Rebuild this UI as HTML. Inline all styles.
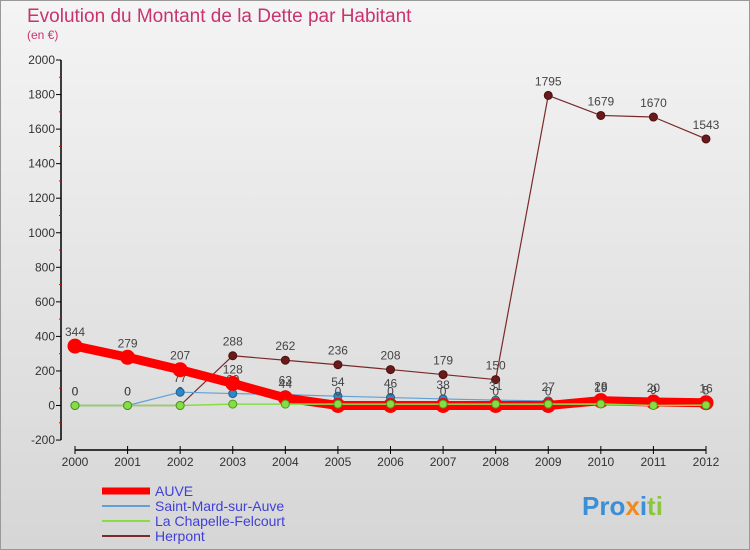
<!DOCTYPE html>
<html><head><meta charset="utf-8"><style>
body{margin:0;width:750px;height:550px;overflow:hidden;font-family:"Liberation Sans",sans-serif;}
#wrap{position:relative;width:748px;height:548px;border:1px solid #999;background:linear-gradient(#f4f4f4,#d6d6d6);}
</style></head><body>
<div id="wrap">
<svg id="c" width="750" height="550" style="position:absolute;left:-1px;top:-1px">
<text x="27" y="22" font-size="19" fill="#c8336e">Evolution du Montant de la Dette par Habitant</text>
<text x="27" y="39" font-size="12" fill="#c8336e">(en €)</text>
<g id="axes"></g><g id="series"></g><g id="legend"></g>
<text x="582" y="515" font-size="26" font-weight="bold" fill="#3a8fd6">Pro<tspan fill="#f08a1c">x</tspan><tspan fill="#3a8fd6">i</tspan><tspan fill="#8cc63f">ti</tspan></text>
</svg></div>
<script>
const years=[2000,2001,2002,2003,2004,2005,2006,2007,2008,2009,2010,2011,2012];
const yTicks=[-200,0,200,400,600,800,1000,1200,1400,1600,1800,2000];
const auve=[344,279,207,128,44,0,0,0,0,0,28,20,16];
const saintMard=[0,0,77,69,63,54,46,38,31,27,19,9,5];
const chapelle=[0,0,0,8,8,8,8,8,8,8,9,0,2];
const herpont=[0,0,0,288,262,236,208,179,150,1795,1679,1670,1543];
const NS="http://www.w3.org/2000/svg";
const X=i=>75+i*(706-75)/12;
const Y=v=>405.5-v*(345.5/2000);
function mk(t,a,p){const e=document.createElementNS(NS,t);for(const k in a)e.setAttribute(k,a[k]);p.appendChild(e);return e;}
const ax=document.getElementById('axes');
let e=mk('line',{x1:61,y1:Y(2000),x2:61,y2:Y(-200),stroke:'#000','stroke-width':1.5},ax);

e=mk('line',{x1:75,y1:450,x2:706,y2:450,stroke:'#000','stroke-width':1.5},ax);

yTicks.forEach(v=>{mk('line',{x1:56,y1:Y(v),x2:61,y2:Y(v),stroke:'#000'},ax);
 if(v<2000)mk('line',{x1:59,y1:Y(v+100),x2:61,y2:Y(v+100),stroke:'#e00'},ax);
 const t=mk('text',{x:55,y:Y(v)+4,'font-size':12,'text-anchor':'end',fill:'#333'},ax);t.textContent=v;
 });
years.forEach((y,i)=>{mk('line',{x1:X(i),y1:446,x2:X(i),y2:454,stroke:'#000'},ax);
 const t=mk('text',{x:X(i),y:466,'font-size':12,'text-anchor':'middle',fill:'#333'},ax);t.textContent=y;
 });
const sg=document.getElementById('series');
function series(name,data,color,w,r,fill,stroke,label){
 const g=mk('g',{},sg);
 mk('polyline',{points:data.map((v,i)=>X(i)+','+Y(v)).join(' '),fill:'none',stroke:color,'stroke-width':w,'stroke-linejoin':'round'},g);
 data.forEach((v,i)=>{const c=mk('circle',{cx:X(i),cy:Y(v),r:r,fill:fill,stroke:stroke,'stroke-width':1},g);
  
  if(label){const t=mk('text',{x:X(i),y:Y(v)-10,'font-size':12,'text-anchor':'middle',fill:'#444'},g);t.textContent=v;
   }});
}
series('herpont',herpont,'#7a2a2a',1.2,4,'#6b1a1a','#4a1010',true);
series('saint-mard',saintMard,'#5fa0d8',1.2,4,'#2f86c8','#1f5f90',true);
series('auve',auve,'#ff0000',9,7,'#ff0000','#ff0000',true);
series('la-chapelle',chapelle,'#88dd44',1.5,4,'#88dd44','#4a9a20',false);
const lg=document.getElementById('legend');
[['AUVE','#ff0000',7],['Saint-Mard-sur-Auve','#5fa0d8',2],['La Chapelle-Felcourt','#88dd44',2],['Herpont','#7a2a2a',2]].forEach((d,i)=>{
 const y=491+i*15;
 const g=mk('g',{},lg);
 mk('line',{x1:102,y1:y,x2:150,y2:y,stroke:d[1],'stroke-width':d[2]},g);
 const t=mk('text',{x:155,y:y+5,'font-size':14,fill:'#4040d8'},g);t.textContent=d[0];
});
</script>
</body></html>
